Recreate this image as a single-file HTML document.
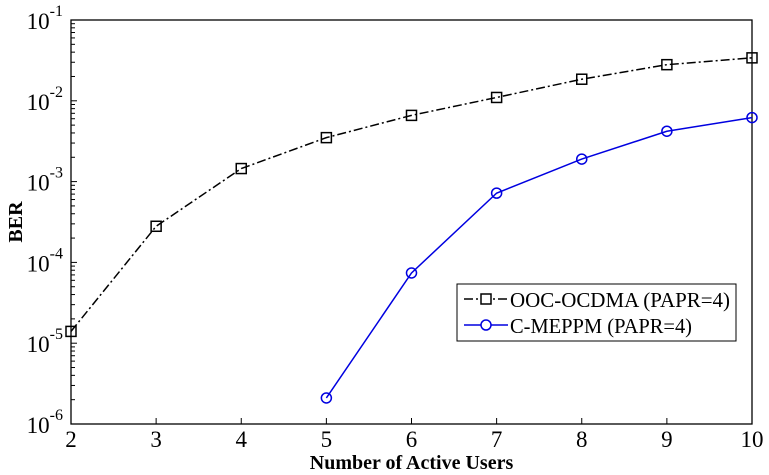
<!DOCTYPE html>
<html><head><meta charset="utf-8"><style>
body{margin:0;background:#fff}
svg{display:block}
svg text{font-family:"Liberation Serif","Times New Roman","Nimbus Roman","DejaVu Serif",serif}
</style></head><body>
<svg id="c" width="769" height="475"></svg>
<script>
const categories=[2,3,4,5,6,7,8,9,10];
const oocX=[2,3,4,5,6,7,8,9,10];
const oocY=[1.4e-5,2.8e-4,1.45e-3,3.5e-3,6.6e-3,1.1e-2,1.85e-2,2.8e-2,3.4e-2];
const cmX=[5,6,7,8,9,10];
const cmY=[2.1e-6,7.4e-5,7.2e-4,1.9e-3,4.2e-3,6.2e-3];
const yExps=[-1,-2,-3,-4,-5,-6];
const L=71,R=752,T=20,B=424;
const sx=v=>L+(v-2)/(10-2)*(R-L);
const sy=v=>T+(-1-Math.log10(v))/5*(B-T);
const svg=document.getElementById('c');const NS='http://www.w3.org/2000/svg';
function el(t,a,p){const e=document.createElementNS(NS,t);for(const k in a)e.setAttribute(k,a[k]);(p||svg).appendChild(e);return e;}
let r=el('rect',{x:L,y:T,width:R-L,height:B-T,fill:'none',stroke:'#000','stroke-width':1.3});


yExps.forEach(e=>{const y=sy(Math.pow(10,e));
 el('line',{x1:L,x2:L+6,y1:y,y2:y,stroke:'#000'});
 const t=el('text',{x:L-8,y:y+9,'text-anchor':'end','font-size':23});
 
 
 t.appendChild(document.createTextNode('10'));
 const s=el('tspan',{dy:-13,'font-size':16},t);s.textContent=String(e);
 if(e>-6)for(let m=2;m<10;m++){const yy=sy(m*Math.pow(10,e-1));el('line',{x1:L,x2:L+4,y1:yy,y2:yy,stroke:'#000'});}
});
categories.forEach(c=>{const x=sx(c);
 el('line',{x1:x,x2:x,y1:B,y2:B-6,stroke:'#000'});
 const t=el('text',{x:x,y:B+23,'text-anchor':'middle','font-size':23});
 
 
 t.textContent=c;});
let xt=el('text',{x:(L+R)/2,y:469,'text-anchor':'middle','font-size':20,'font-weight':'bold'});


xt.textContent='Number of Active Users';
let yt=el('text',{x:0,y:0,transform:'translate(22,222) rotate(-90)','text-anchor':'middle','font-size':20,'font-weight':'bold'});


yt.textContent='BER';
let p1=el('polyline',{points:oocX.map((x,i)=>sx(x)+','+sy(oocY[i])).join(' '),fill:'none',stroke:'#000','stroke-width':1.5,'stroke-dasharray':'9,3,2,3'});


oocX.forEach((x,i)=>{const m=el('rect',{x:sx(x)-5,y:sy(oocY[i])-5,width:10,height:10,fill:'none',stroke:'#000','stroke-width':1.5});
 
 });
let p2=el('polyline',{points:cmX.map((x,i)=>sx(x)+','+sy(cmY[i])).join(' '),fill:'none',stroke:'#0000e0','stroke-width':1.5});


cmX.forEach((x,i)=>{const m=el('circle',{cx:sx(x),cy:sy(cmY[i]),r:5,fill:'none',stroke:'#0000e0','stroke-width':1.5});
 
 });
const g=el('g',{});


el('rect',{x:457,y:284,width:279,height:57,fill:'#fff',stroke:'#000','stroke-width':1},g);
el('line',{x1:464,x2:508,y1:299,y2:299,stroke:'#000','stroke-width':1.5,'stroke-dasharray':'9,3,2,3'},g);
el('rect',{x:481,y:294,width:10,height:10,fill:'#fff',stroke:'#000','stroke-width':1.5},g);
let l1=el('text',{x:510,y:307,'font-size':21,textLength:220,lengthAdjust:'spacingAndGlyphs'},g);


l1.textContent='OOC-OCDMA (PAPR=4)';
el('line',{x1:464,x2:508,y1:325,y2:325,stroke:'#0000e0','stroke-width':1.5},g);
el('circle',{cx:486,cy:325,r:5,fill:'#fff',stroke:'#0000e0','stroke-width':1.5},g);
let l2=el('text',{x:510,y:333,'font-size':21,textLength:182,lengthAdjust:'spacingAndGlyphs'},g);


l2.textContent='C-MEPPM (PAPR=4)';
</script>
</body></html>
